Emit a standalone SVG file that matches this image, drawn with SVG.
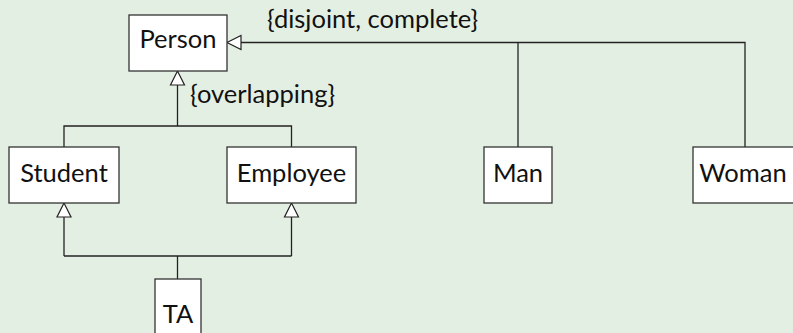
<svg xmlns="http://www.w3.org/2000/svg" width="793" height="333" viewBox="0 0 793 333">
<style>
.box{fill:#ffffff;stroke:#333333;stroke-width:1.3}
.t{font-family:Lato,"Open Sans","Liberation Sans",sans-serif;font-size:25.5px;fill:#111111}
.c{fill:none;stroke:#222222;stroke-width:1.3}
.tri{fill:#ffffff;stroke:#222222;stroke-width:1.2}
</style>
<rect width="793" height="333" fill="#e4efe3"/>
<g id="connectors">
<polyline class="c" points="241,42.5 745,42.5 745,147"/>
<line class="c" x1="518" y1="42.5" x2="518" y2="147"/>
<polygon class="tri" points="227,42.5 241,35.5 241,49.5"/>
<line class="c" x1="177.5" y1="85" x2="177.5" y2="126"/>
<polyline class="c" points="64,147 64,126 291.5,126 291.5,147"/>
<polygon class="tri" points="177.5,71 170.5,85 184.5,85"/>
<line class="c" x1="64" y1="217" x2="64" y2="256"/>
<line class="c" x1="291.5" y1="217" x2="291.5" y2="256"/>
<line class="c" x1="64" y1="256" x2="291.5" y2="256"/>
<line class="c" x1="177.5" y1="256" x2="177.5" y2="279"/>
<polygon class="tri" points="64,203 57,217 71,217"/>
<polygon class="tri" points="291.5,203 284.5,217 298.5,217"/>
<text class="t" x="267" y="28">{disjoint, complete}</text>
<text class="t" x="190" y="103">{overlapping}</text>
</g>
<g id="person"><rect class="box" x="129" y="15" width="98" height="56"/><text class="t" x="178" y="48" text-anchor="middle">Person</text></g>
<g id="student"><rect class="box" x="9" y="147" width="110" height="56"/><text class="t" x="64" y="182" text-anchor="middle">Student</text></g>
<g id="employee"><rect class="box" x="227" y="147" width="129" height="56"/><text class="t" x="291.5" y="182" text-anchor="middle">Employee</text></g>
<g id="man"><rect class="box" x="484" y="147" width="68" height="56"/><text class="t" x="518" y="182" text-anchor="middle">Man</text></g>
<g id="woman"><rect class="box" x="693" y="147" width="104" height="56"/><text class="t" x="743" y="182" text-anchor="middle">Woman</text></g>
<g id="ta"><rect class="box" x="155" y="279" width="46" height="60"/><text class="t" x="178" y="323" text-anchor="middle">TA</text></g>
</svg>
